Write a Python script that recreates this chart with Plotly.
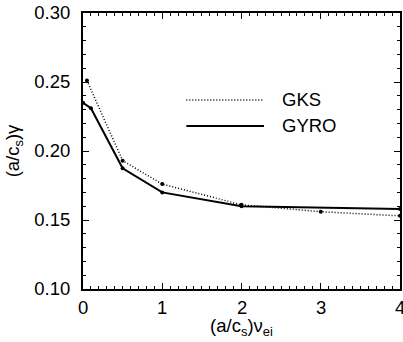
import plotly.graph_objects as go

gks_x = [0.05, 0.5, 1.0, 2.0, 3.0, 4.0]
gks_y = [0.251, 0.193, 0.176, 0.161, 0.156, 0.153]
gyro_x = [0.0, 0.1, 0.5, 1.0, 2.0, 4.0]
gyro_y = [0.235, 0.231, 0.1875, 0.170, 0.160, 0.158]
legend_names = ["GKS", "GYRO"]
x_ticks = [0, 1, 2, 3, 4]

FONT = "Arial, Liberation Sans, sans-serif"
TF = dict(family=FONT, size=18.5, color="black")

fig = go.Figure()
fig.add_trace(go.Scatter(x=gks_x, y=gks_y, mode="lines+markers",
                         line=dict(color="black", width=1.5, dash="1px,2px"),
                         marker=dict(color="black", size=4), name=legend_names[0],
                         cliponaxis=False))
fig.add_trace(go.Scatter(x=gyro_x, y=gyro_y, mode="lines+markers",
                         line=dict(color="black", width=2),
                         marker=dict(color="black", size=4), name=legend_names[1],
                         cliponaxis=False))

# manual legend (long sample lines)
leg_y = [0.685, 0.591]
dashes = ["1px,2px", "solid"]
widths = [1.5, 2]
for name, yy, d, w in zip(legend_names, leg_y, dashes, widths):
    fig.add_shape(type="line", xref="paper", yref="paper", x0=0.326, x1=0.571,
                  y0=yy, y1=yy, line=dict(color="black", width=w, dash=d))
    fig.add_annotation(xref="paper", yref="paper", x=0.622, y=yy, text=name,
                       showarrow=False, xanchor="left", yanchor="middle",
                       font=TF)

# x tick labels as annotations so the last one shows (clipped at the edge)
for t in x_ticks:
    fig.add_annotation(x=t, xref="x", yref="paper", y=0, yshift=-6,
                       text=str(t), showarrow=False, xanchor="center",
                       yanchor="top", font=TF)

axis_common = dict(showgrid=False, zeroline=False, showline=True, linecolor="black",
                   linewidth=2, mirror="ticks", ticks="inside", tickcolor="black",
                   ticklen=6, tickwidth=1, tickfont=TF)

fig.update_xaxes(range=[0, 4], dtick=1, showticklabels=False,
                 minor=dict(dtick=0.1, ticks="inside", ticklen=3, tickcolor="black"),
                 title=dict(text="(a/c<sub>s</sub>)ν<sub>ei</sub>", standoff=29,
                            font=TF),
                 **axis_common)
fig.update_yaxes(range=[0.10, 0.30], dtick=0.05, tickformat=".2f",
                 ticklabelstandoff=7,
                 minor=dict(dtick=0.01, ticks="inside", ticklen=3, tickcolor="black"),
                 title=dict(text="(a/c<sub>s</sub>)γ", standoff=10, font=TF),
                 **axis_common)

fig.update_layout(width=403, height=342, showlegend=False,
                  margin=dict(l=83, r=1, t=13, b=53),
                  plot_bgcolor="white", paper_bgcolor="white",
                  font=dict(family=FONT, color="black"))

fig.write_html("out.html")
